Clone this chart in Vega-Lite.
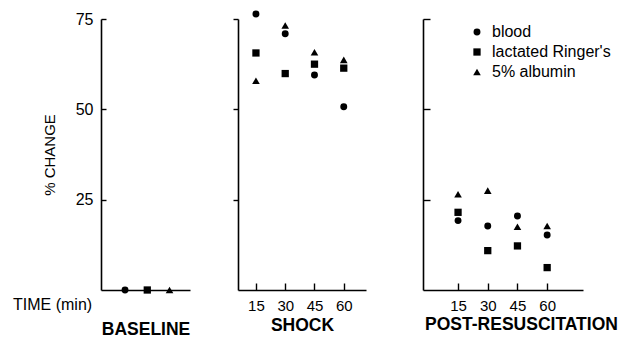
{
  "$schema": "https://vega.github.io/schema/vega-lite/v6.json",
  "padding": {"left": 13, "top": 10, "right": 0, "bottom": 0},
  "background": "white",
  "config": {
    "view": {"stroke": null},
    "font": "Liberation Sans",
    "axis": {
      "grid": false,
      "domainColor": "black",
      "tickColor": "black",
      "labelColor": "black",
      "titleColor": "black",
      "labelFont": "Liberation Sans",
      "titleFont": "Liberation Sans",
      "domainWidth": 1.6,
      "tickWidth": 1.4
    }
  },
  "datasets": {
    "pts": [
      {"phase": "BASELINE", "time": 0, "fluid": "blood", "pct": 0},
      {"phase": "BASELINE", "time": 0, "fluid": "lactated Ringer's", "pct": 0},
      {"phase": "BASELINE", "time": 0, "fluid": "5% albumin", "pct": 0},
      {"phase": "SHOCK", "time": 15, "fluid": "blood", "pct": 76.4},
      {"phase": "SHOCK", "time": 15, "fluid": "lactated Ringer's", "pct": 65.6},
      {"phase": "SHOCK", "time": 15, "fluid": "5% albumin", "pct": 57.9},
      {"phase": "SHOCK", "time": 30, "fluid": "blood", "pct": 70.9},
      {"phase": "SHOCK", "time": 30, "fluid": "lactated Ringer's", "pct": 59.9},
      {"phase": "SHOCK", "time": 30, "fluid": "5% albumin", "pct": 73.2},
      {"phase": "SHOCK", "time": 45, "fluid": "blood", "pct": 59.5},
      {"phase": "SHOCK", "time": 45, "fluid": "lactated Ringer's", "pct": 62.5},
      {"phase": "SHOCK", "time": 45, "fluid": "5% albumin", "pct": 65.8},
      {"phase": "SHOCK", "time": 60, "fluid": "blood", "pct": 50.7},
      {"phase": "SHOCK", "time": 60, "fluid": "lactated Ringer's", "pct": 61.4},
      {"phase": "SHOCK", "time": 60, "fluid": "5% albumin", "pct": 63.7},
      {"phase": "POST", "time": 15, "fluid": "blood", "pct": 19.2},
      {"phase": "POST", "time": 15, "fluid": "lactated Ringer's", "pct": 21.5},
      {"phase": "POST", "time": 15, "fluid": "5% albumin", "pct": 26.5},
      {"phase": "POST", "time": 30, "fluid": "blood", "pct": 17.7},
      {"phase": "POST", "time": 30, "fluid": "lactated Ringer's", "pct": 10.9},
      {"phase": "POST", "time": 30, "fluid": "5% albumin", "pct": 27.5},
      {"phase": "POST", "time": 45, "fluid": "blood", "pct": 20.5},
      {"phase": "POST", "time": 45, "fluid": "lactated Ringer's", "pct": 12.2},
      {"phase": "POST", "time": 45, "fluid": "5% albumin", "pct": 17.5},
      {"phase": "POST", "time": 60, "fluid": "blood", "pct": 15.2},
      {"phase": "POST", "time": 60, "fluid": "lactated Ringer's", "pct": 6.2},
      {"phase": "POST", "time": 60, "fluid": "5% albumin", "pct": 17.7}
    ]
  },
  "resolve": {"legend": {"shape": "independent", "size": "independent"}},
  "spacing": 56,
  "hconcat": [
    {
      "bounds": "flush",
      "spacing": 48,
      "resolve": {"legend": {"shape": "independent", "size": "independent"}},
      "hconcat": [
        {
          "width": 89,
          "height": 271,
          "data": {"name": "pts"},
          "transform": [{"filter": "datum.phase === 'BASELINE'"}],
          "title": {"text": "TIME (min)", "orient": "bottom", "anchor": "start", "frame": "group", "dx": -88, "dy": -45, "fontSize": 16, "fontWeight": "normal", "font": "Liberation Sans", "color": "black"},
          "mark": {"type": "point", "filled": true, "color": "black", "opacity": 1},
          "encoding": {
            "x": {"field": "fluid", "type": "nominal", "sort": ["blood", "lactated Ringer's", "5% albumin"],
                  "scale": {"type": "point", "padding": 1.54, "align": 0.54},
                  "axis": {"labels": false, "ticks": false, "title": "BASELINE", "titleFontSize": 17.5, "titleFontWeight": "bold", "titlePadding": 30}},
            "y": {"field": "pct", "type": "quantitative", "scale": {"domain": [0, 75], "nice": false, "zero": true},
                  "axis": {"values": [25, 50, 75], "tickSize": -5, "labelFontSize": 16, "labelPadding": 13, "title": "% CHANGE", "titleFontSize": 15, "titleFontWeight": "normal", "titlePadding": 18}},
            "shape": {"field": "fluid", "type": "nominal", "scale": {"domain": ["blood", "lactated Ringer's", "5% albumin"], "range": ["circle", "square", "triangle-up"]}, "legend": null},
            "size": {"field": "fluid", "type": "nominal", "scale": {"domain": ["blood", "lactated Ringer's", "5% albumin"], "range": [48, 58, 88]}, "legend": null}
          }
        },
        {
          "width": 128,
          "height": 271,
          "data": {"name": "pts"},
          "transform": [{"filter": "datum.phase === 'SHOCK'"}],
          "mark": {"type": "point", "filled": true, "color": "black", "opacity": 1},
          "encoding": {
            "x": {"field": "time", "type": "quantitative", "scale": {"domain": [5.8, 71.4], "nice": false, "zero": false},
                  "axis": {"values": [15, 30, 45, 60], "tickSize": -7, "labelFontSize": 15, "labelPadding": 15.5, "title": "SHOCK", "titleFontSize": 17.5, "titleFontWeight": "bold", "titlePadding": 3}},
            "y": {"field": "pct", "type": "quantitative", "scale": {"domain": [0, 75], "nice": false},
                  "axis": {"values": [25, 50, 75], "tickSize": 5, "labels": false, "title": null}},
            "shape": {"field": "fluid", "type": "nominal", "scale": {"domain": ["blood", "lactated Ringer's", "5% albumin"], "range": ["circle", "square", "triangle-up"]}, "legend": null},
            "size": {"field": "fluid", "type": "nominal", "scale": {"domain": ["blood", "lactated Ringer's", "5% albumin"], "range": [48, 58, 88]}, "legend": null}
          }
        }
      ]
    },
    {
      "width": 160,
      "height": 271,
      "data": {"name": "pts"},
      "transform": [{"filter": "datum.phase === 'POST'"}],
      "mark": {"type": "point", "filled": true, "color": "black", "opacity": 1},
      "encoding": {
        "x": {"field": "time", "type": "quantitative", "scale": {"domain": [-2.7, 78.1], "nice": false, "zero": false},
              "axis": {"values": [15, 30, 45, 60], "tickSize": -7, "labelFontSize": 15, "labelPadding": 15.5, "title": "POST-RESUSCITATION", "titleX": 98, "titleFontSize": 17.5, "titleFontWeight": "bold", "titlePadding": 2}},
        "y": {"field": "pct", "type": "quantitative", "scale": {"domain": [0, 75], "nice": false},
              "axis": {"values": [25, 50, 75], "tickSize": -7, "labels": false, "title": null}},
        "shape": {"field": "fluid", "type": "nominal", "scale": {"domain": ["blood", "lactated Ringer's", "5% albumin"], "range": ["circle", "square", "triangle-up"]},
                  "legend": {"orient": "none", "legendX": 46, "legendY": 5, "title": null, "labelFontSize": 16, "labelFont": "Liberation Sans", "labelColor": "black", "rowPadding": 4, "labelOffset": 7, "symbolStrokeWidth": 0, "padding": 0, "symbolFillColor": "black"}},
        "size": {"field": "fluid", "type": "nominal", "scale": {"domain": ["blood", "lactated Ringer's", "5% albumin"], "range": [48, 58, 88]}}
      }
    }
  ]
}
